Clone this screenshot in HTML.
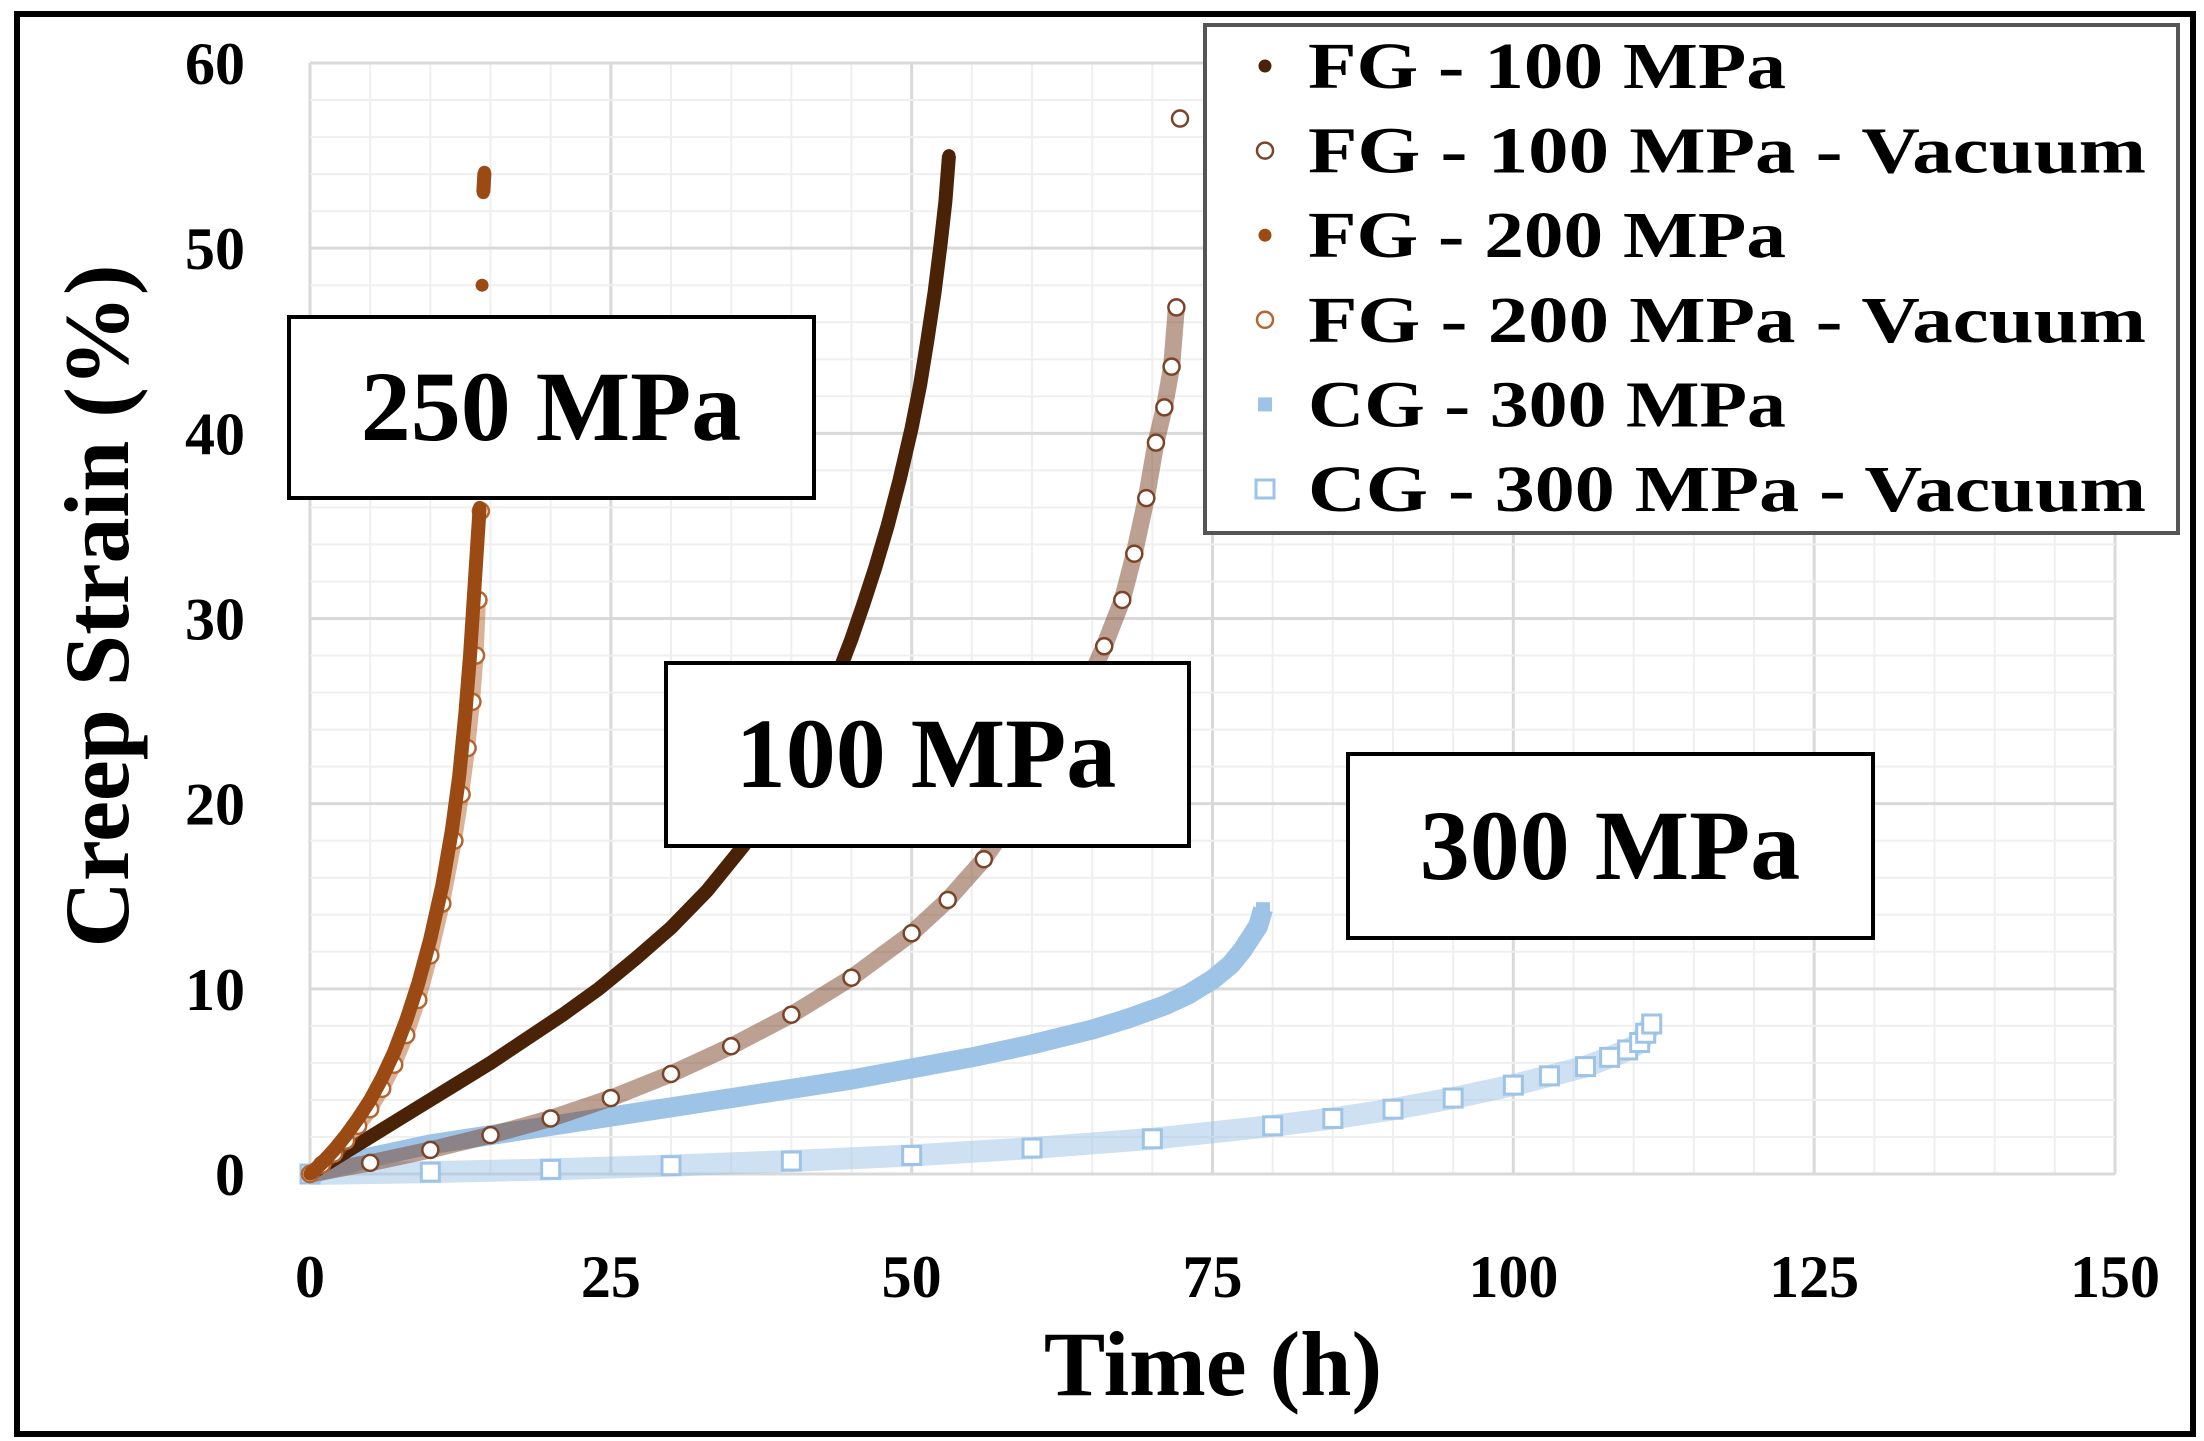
<!DOCTYPE html>
<html><head><meta charset="utf-8">
<style>
html,body{margin:0;padding:0;background:#fff;}
svg{display:block;font-family:"Liberation Serif",serif;}
</style></head>
<body>
<svg id="chart" width="2204" height="1441" viewBox="0 0 2204 1441" xmlns="http://www.w3.org/2000/svg">
<rect x="17" y="14" width="2176" height="1420" fill="#fff" stroke="#000" stroke-width="6"/>
<g id="grid"></g>
<g id="series"></g>
<g id="ticks"></g>
<text x="1213" y="1395" font-size="92" font-weight="bold" text-anchor="middle">Time (h)</text>
<text transform="translate(128,606) rotate(-90)" font-size="92" font-weight="bold" text-anchor="middle">Creep Strain (%)</text>
<g>
<rect x="289" y="317" width="525" height="181" fill="#fff" stroke="#000" stroke-width="4"/>
<text x="551" y="440" font-size="100" font-weight="bold" text-anchor="middle">250 MPa</text></g>
<g>
<rect x="666" y="663" width="523" height="183" fill="#fff" stroke="#000" stroke-width="4"/>
<text x="926" y="787" font-size="100" font-weight="bold" text-anchor="middle">100 MPa</text></g>
<g>
<rect x="1348" y="754" width="525" height="184" fill="#fff" stroke="#000" stroke-width="4"/>
<text x="1610" y="879" font-size="100" font-weight="bold" text-anchor="middle">300 MPa</text></g>
<g id="legend">
<rect x="1205" y="25" width="973" height="508" fill="#fff" stroke="#555" stroke-width="4"/>
</g>
</svg>
<script>
const xTicks=[0,25,50,75,100,125,150];
const yTicks=[0,10,20,30,40,50,60];
const names=["FG - 100 MPa","FG - 100 MPa - Vacuum","FG - 200 MPa","FG - 200 MPa - Vacuum","CG - 300 MPa","CG - 300 MPa - Vacuum"];
const fg100T=[0,3,6,9,12,15,18,21,24,27,30,33,36,38,40,42,44,45,46,47,48,49,50,50.7,51.3,51.9,52.4,52.8,53.1];
const fg100S=[0,1.2,2.4,3.6,4.8,6,7.3,8.6,10,11.6,13.3,15.3,17.7,19.6,21.8,24.3,27.2,28.9,30.8,32.8,35,37.5,40.3,42.6,45,47.6,50.2,52.5,55];
const fg100vT=[0,5,10,15,20,25,30,35,40,45,50,53,56,59,62,64,66,67.5,68.5,69.5,70.3,71,71.6,72,72.3];
const fg100vS=[0,0.6,1.3,2.1,3,4.1,5.4,6.9,8.6,10.6,13,14.8,17,19.8,23,25.6,28.5,31,33.5,36.5,39.5,41.4,43.6,46.8,57];
const fg200T=[0,1,2,3,4,5,6,7,8,9,10,11,11.8,12.4,12.9,13.3,13.6,13.9,14.1,14.3,14.4,14.5];
const fg200S=[0,0.6,1.3,2.1,3,4,5.2,6.6,8.3,10.3,12.7,15.6,18.6,21.5,24.8,28,31,34,36,48,53,54.1];
const fg200vT=[0,1,2,3,4,5,6,7,8,9,10,11,12,12.6,13.1,13.5,13.8,14,14.2];
const fg200vS=[0,0.5,1.1,1.8,2.6,3.5,4.6,5.9,7.5,9.4,11.8,14.6,18,20.5,23,25.5,28,31,35.8];
const cg300T=[0,5,10,15,20,25,30,35,40,45,50,55,60,65,68,71,73,75,76.5,77.5,78.2,78.8,79.2];
const cg300S=[0,0.9,1.6,2.1,2.6,3.1,3.6,4.1,4.6,5.1,5.7,6.3,7,7.8,8.4,9.1,9.7,10.5,11.3,12.1,12.8,13.4,14.3];
const cg300vT=[0,10,20,30,40,50,60,70,80,85,90,95,100,103,106,108,109.5,110.5,111,111.5];
const cg300vS=[0,0.1,0.25,0.45,0.7,1,1.4,1.9,2.6,3,3.5,4.1,4.8,5.3,5.8,6.3,6.7,7.1,7.6,8.1];
const seriesT=[fg100T,fg100vT,fg200T,fg200vT,cg300T,cg300vT];
const seriesS=[fg100S,fg100vS,fg200S,fg200vS,cg300S,cg300vS];
const colors=["#4a2208","#7a4428","#9a4a12","#b5652f","#9dc3e6","#9dc3e6"];
const kinds=["dot","ring","dot","ring","sq","osq"];
const bandW=[14,17,14,15,20,22];
const ns="http://www.w3.org/2000/svg";
const X0=310,X1=2115,Y0=1174,Y1=63;
function sx(v){return X0+(v-0)/(150-0)*(X1-X0);}
function sy(v){return Y0-(v-0)/(60-0)*(Y0-Y1);}
function mk(tag,at,parent){const e=document.createElementNS(ns,tag);for(const k in at)e.setAttribute(k,at[k]);parent.appendChild(e);return e;}
const grid=document.getElementById('grid');
for(let v=0;v<=150;v+=5){const l=mk('line',{x1:sx(v),x2:sx(v),y1:sy(0),y2:sy(60),stroke:v%25===0?'#d9d9d9':'#efefef','stroke-width':v%25===0?3:2},grid);

}
for(let v=0;v<=60;v+=2){const l=mk('line',{x1:sx(0),x2:sx(150),y1:sy(v),y2:sy(v),stroke:v%10===0?'#d9d9d9':'#efefef','stroke-width':v%10===0?3:2},grid);

}
const ticks=document.getElementById('ticks');
xTicks.forEach(v=>{const t=mk('text',{x:sx(v),y:1297,'font-size':60,'font-weight':'bold','text-anchor':'middle'},ticks);t.textContent=v;

});
yTicks.forEach(v=>{const t=mk('text',{x:245,y:sy(v)+21,'font-size':60,'font-weight':'bold','text-anchor':'end'},ticks);t.textContent=v;

});
function marker(kind,x,y,c,g){
 if(kind==='dot')return mk('circle',{cx:x,cy:y,r:6.5,fill:c},g);
 if(kind==='ring')return mk('circle',{cx:x,cy:y,r:8,fill:'#fff',stroke:c,'stroke-width':2.5},g);
 if(kind==='sq')return mk('rect',{x:x-7,y:y-7,width:14,height:14,fill:c},g);
 return mk('rect',{x:x-9,y:y-9,width:18,height:18,fill:'#fff',stroke:c,'stroke-width':3},g);
}
const sl=document.getElementById('series');
const order=[5,4,1,0,3,2];
order.forEach(i=>{
 const g=mk('g',{},sl);
 
 
 const T=seriesT[i],S=seriesS[i];
 const hollow=(kinds[i]==='ring'||kinds[i]==='osq');
 // split band where the strain jump is large (isolated rupture points)
 let segs=[[0]];
 for(let j=1;j<T.length;j++){ if(S[j]-S[j-1]>4) segs.push([j]); else segs[segs.length-1].push(j); }
 segs.forEach(seg=>{
  if(seg.length<2)return;
  const pts=seg.map(j=>sx(T[j])+','+sy(S[j])).join(' ');
  const pl=mk('polyline',{points:pts,fill:'none',stroke:colors[i],'stroke-width':bandW[i],'stroke-linejoin':'round','stroke-opacity':hollow?0.5:1},g);
  
  
 });
 T.forEach((t,j)=>{const m=marker(kinds[i],sx(t),sy(S[j]),colors[i],g);
 
 });
});
const lg=document.getElementById('legend');
names.forEach((n,i)=>{
 const y=66+i*84.6;
 const m=marker(kinds[i],1265,y,colors[i],lg);
 
 
 const t=mk('text',{x:1308,y:y+22,'font-size':66,'font-weight':'bold'},lg);
 t.textContent=n;
 if(n.indexOf('Vacuum')>=0){t.setAttribute('textLength',838);t.setAttribute('lengthAdjust','spacingAndGlyphs');}
 else{t.setAttribute('textLength',478);t.setAttribute('lengthAdjust','spacingAndGlyphs');}
 
 
});
</script>
</body></html>
